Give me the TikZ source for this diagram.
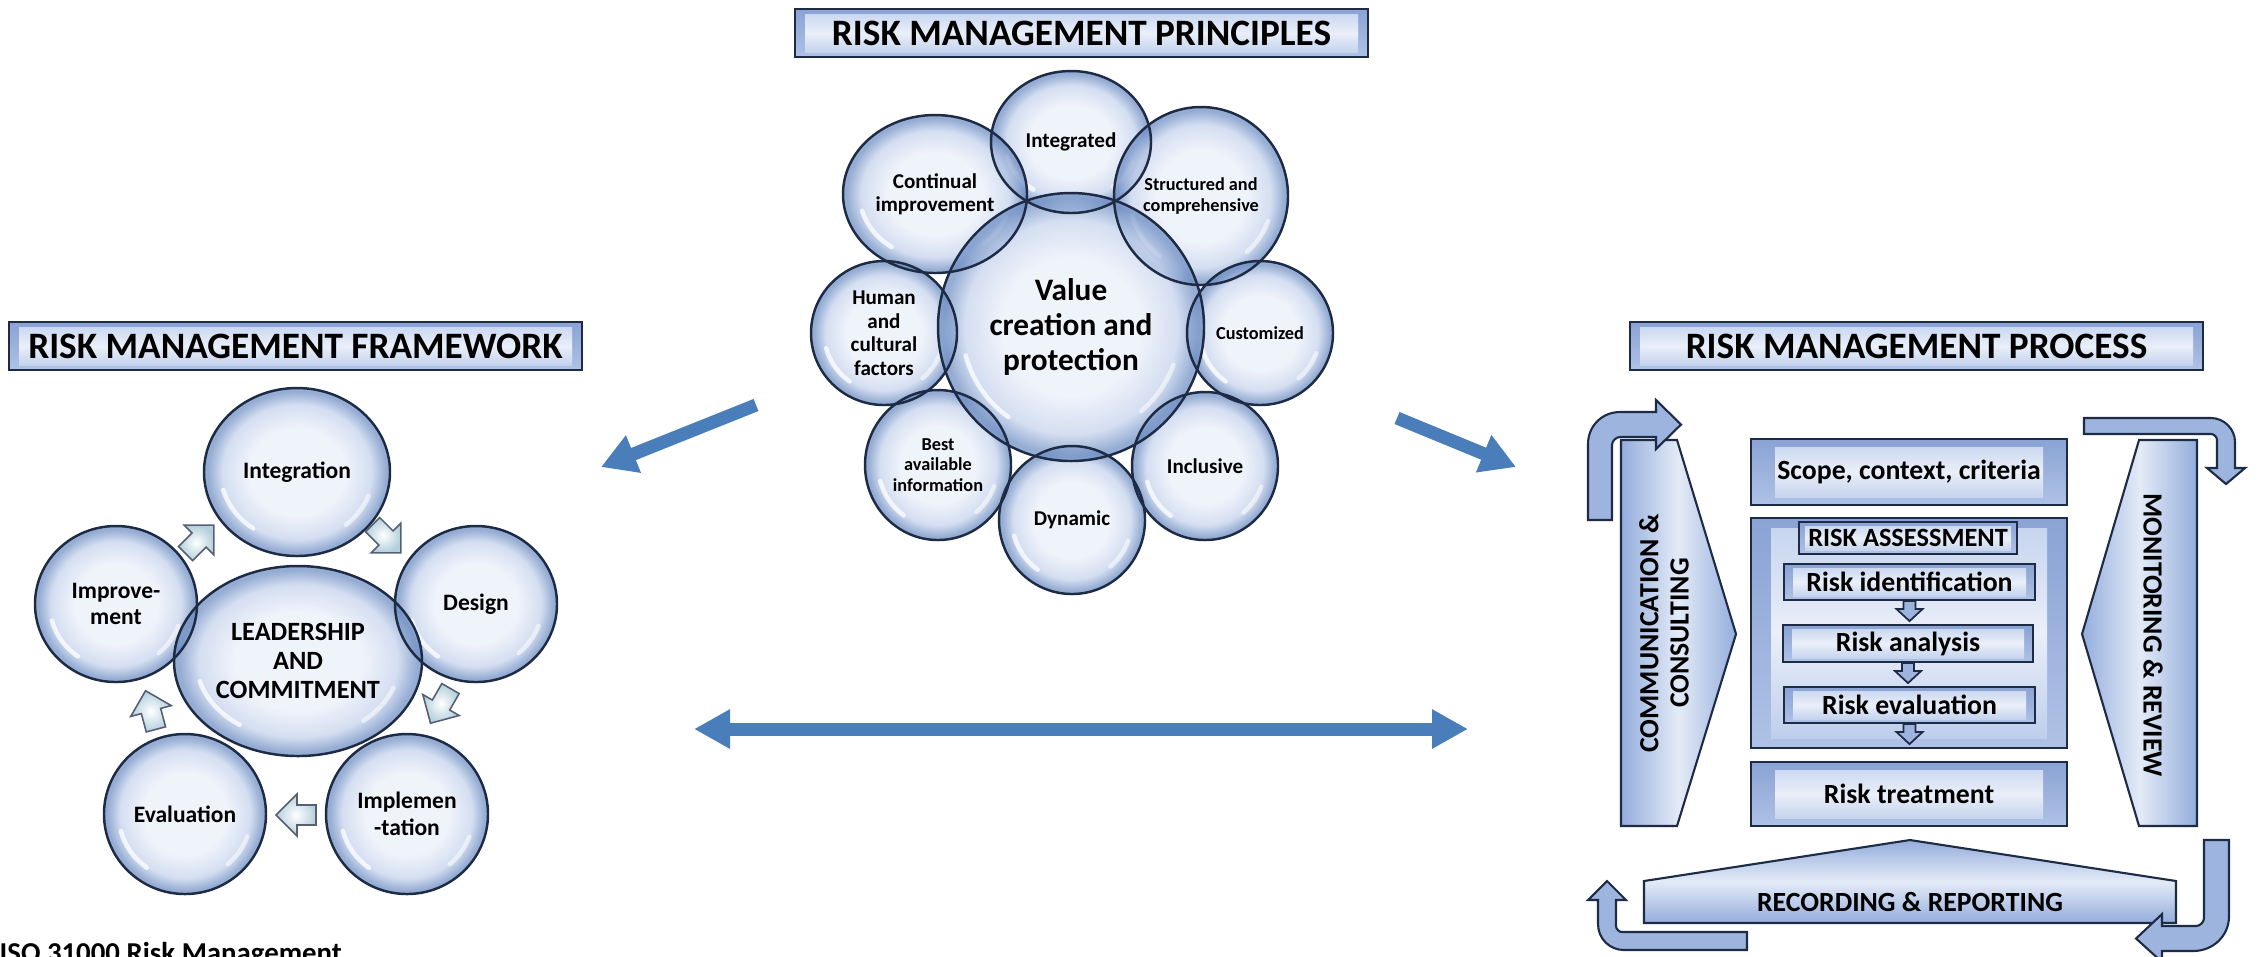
\documentclass[tikz,border=0pt]{standalone}
\usepackage{fontspec}
\setmainfont{Carlito}
\usetikzlibrary{arrows.meta,shapes.geometric}

\definecolor{rimcol}{HTML}{1E2B45}
\definecolor{bubIn}{HTML}{E9EEF8}
\definecolor{bubMid}{HTML}{C4D2EC}
\definecolor{bubOut}{HTML}{6C8CC2}
\definecolor{bevTop}{HTML}{8AA3D4}
\definecolor{bevBot}{HTML}{AFC2E6}
\definecolor{bevInTop}{HTML}{C3D2EE}
\definecolor{bevInMid}{HTML}{EAEFF9}
\definecolor{bevInBot}{HTML}{BACBEA}
\definecolor{shapeEdge}{HTML}{94ADDC}
\definecolor{shapeMid}{HTML}{E4EBF7}
\definecolor{arrFill}{HTML}{9DB4DF}
\definecolor{bigblue}{HTML}{4A7EBB}
\definecolor{cyc}{HTML}{B3CFDB}

\pgfdeclareradialshading{bubbleshade}{\pgfpoint{0bp}{0bp}}{color(0bp)=(bubIn); color(13bp)=(bubIn); color(20bp)=(bubMid); color(24bp)=(bubOut); color(25bp)=(bubOut); color(50bp)=(bubOut)}

\tikzset{
  bubblefill/.style={ellipse, inner sep=0pt, shade, shading=bubbleshade, fill opacity=0.72},
  bubblerim/.style={ellipse, inner sep=0pt, draw=rimcol, line width=0.7pt, align=center},
  gloss/.style={white, opacity=0.75, line width=0.45mm, line cap=round},
  bevel/.style 2 args={rectangle, inner sep=0pt, draw=rimcol, line width=0.6pt,
    top color=bevTop, bottom color=bevBot,
    path picture={\shade[top color=bevInTop, bottom color=bevInBot, middle color=bevInMid]
      ([xshift=#1,yshift=-#2]path picture bounding box.north west) rectangle
      ([xshift=-#1,yshift=#2]path picture bounding box.south east);}},
  banner/.style={bevel={1.0mm}{0.5mm}, minimum width=57.3mm, minimum height=4.8mm,
    font=\bfseries\fontsize{10.6}{12}\selectfont},
  pA/.style={font=\bfseries\fontsize{5.2}{5.9}\selectfont},
  pB/.style={font=\bfseries\fontsize{6}{6.7}\selectfont},
  pC/.style={font=\bfseries\fontsize{8.9}{10}\selectfont},
  fA/.style={font=\bfseries\fontsize{6.7}{7.6}\selectfont},
  fB/.style={font=\bfseries\fontsize{7.5}{8.2}\selectfont},
  procfont/.style={font=\bfseries\fontsize{7.9}{8.6}\selectfont},
  procshape/.style={draw=rimcol, line width=0.6pt},
  curvarrow/.style={draw=rimcol, line width=0.6pt, fill=arrFill},
  bigarrow/.style={bigblue, line width=1.3mm},
  cyclearrow/.pic={\draw[rimcol!75, line width=0.45pt, inner color=white, outer color=cyc]
    (-19,-10) -- (0,-10) -- (0,-21) -- (21,0) -- (0,21) -- (0,10) -- (-19,10) -- cycle;},
  downarr/.pic={\draw[rimcol, line width=0.5pt, fill=arrFill]
    (-6,0) -- (6,0) -- (6,8) -- (13,8) -- (0,20) -- (-13,8) -- (-6,8) -- cycle;}
}

\newcommand\frameworkbubbles{
  integ/297/472/18.6/16.8/fA/Integration,
  design/476/604/16.2/15.6/fA/Design,
  implem/407/814/16.2/16.0/fA/{Implemen\\-tation},
  evalu/185/814/16.2/16.0/fA/Evaluation,
  improv/116/604/16.2/15.6/fA/{Improve-\\ment},
  lead/298/661/24.8/19.0/fB/{LEADERSHIP\\AND\\COMMITMENT}}
\newcommand\principlebubbles{
  integd/1071/142/16.0/14.2/pB/Integrated,
  struct/1201/196/17.4/17.8/pA/{Structured and\\comprehensive},
  custom/1260/333/14.6/14.4/pA/Customized,
  inclus/1205/466/14.6/14.8/pB/Inclusive,
  dynam/1072/520/14.6/14.8/pB/Dynamic,
  bestinfo/938/465/14.6/15.0/pA/{Best\\available\\information},
  human/884/333/14.6/14.4/pB/{Human\\and\\cultural\\factors},
  contin/935/194/18.4/15.8/pB/{Continual\\improvement},
  value/1071/327/26.6/26.8/pC/{Value\\creation and\\protection}}

\begin{document}
\begin{tikzpicture}[x=0.1mm, y=-0.1mm]
	\clip (0,0) rectangle (2259,956);

	% banners
	\node[banner] (prinbanner) at (1081.5,33) {RISK MANAGEMENT PRINCIPLES};
	\node[banner] (frambanner) at (295.5,346) {RISK MANAGEMENT FRAMEWORK};
	\node[banner] (procbanner) at (1916.5,346) {RISK MANAGEMENT PROCESS};

	% bubbles: fill and gloss first, rims and labels on top
	\foreach \nm/\x/\y/\w/\h/\st/\txt in \frameworkbubbles {
		\node[bubblefill, minimum width=\w mm, minimum height=\h mm] at (\x,\y) {};
		\pgfmathsetmacro\rx{0.41*\w}
		\pgfmathsetmacro\ry{0.41*\h}
		\draw[gloss] ([shift={(195:\rx mm and \ry mm)}]\x,\y) arc[start angle=195, end angle=235, x radius=\rx mm, y radius=\ry mm];
		\draw[gloss, opacity=0.55] ([shift={(-50:\rx mm and \ry mm)}]\x,\y) arc[start angle=-50, end angle=-20, x radius=\rx mm, y radius=\ry mm];
	}
	\foreach \nm/\x/\y/\w/\h/\st/\txt in \principlebubbles {
		\node[bubblefill, minimum width=\w mm, minimum height=\h mm] at (\x,\y) {};
		\pgfmathsetmacro\rx{0.41*\w}
		\pgfmathsetmacro\ry{0.41*\h}
		\draw[gloss] ([shift={(195:\rx mm and \ry mm)}]\x,\y) arc[start angle=195, end angle=235, x radius=\rx mm, y radius=\ry mm];
		\draw[gloss, opacity=0.55] ([shift={(-50:\rx mm and \ry mm)}]\x,\y) arc[start angle=-50, end angle=-20, x radius=\rx mm, y radius=\ry mm];
	}
	\foreach \nm/\x/\y/\w/\h/\st/\txt in \frameworkbubbles
		\node[bubblerim, \st, minimum width=\w mm, minimum height=\h mm] (\nm) at (\x,\y) {\txt};
	\foreach \nm/\x/\y/\w/\h/\st/\txt in \principlebubbles
		\node[bubblerim, \st, minimum width=\w mm, minimum height=\h mm] (\nm) at (\x,\y) {\txt};

	% cycle arrows of the framework
	\pic[rotate=45] at (199,540) {cyclearrow};
	\pic[rotate=-45] at (386,538) {cyclearrow};
	\pic[rotate=-120] at (441,705) {cyclearrow};
	\pic[rotate=180] at (297,815) {cyclearrow};
	\pic[rotate=105] at (151,711) {cyclearrow};

	% big arrows
	\coordinate (fwtail) at (756,405);
	\coordinate (fwhead) at (601,467);
	\coordinate (prtail) at (1397,418);
	\coordinate (prhead) at (1516,467);
	\coordinate (linkL) at (694,729);
	\coordinate (linkR) at (1468,729);
	\draw[bigarrow, -{Triangle[length=3.5mm, width=3.8mm]}] (fwtail) -- (fwhead);
	\draw[bigarrow, -{Triangle[length=3.5mm, width=3.8mm]}] (prtail) -- (prhead);
	\draw[bigarrow, {Triangle[length=3.6mm, width=3.7mm]}-{Triangle[length=3.6mm, width=3.7mm]}] (linkL) -- (linkR);

	% process side shapes
	\draw[procshape, left color=shapeEdge, right color=shapeEdge, middle color=shapeMid]
		(1621,440) -- (1677,440) -- (1736,634) -- (1677,826) -- (1621,826) -- cycle;
	\draw[procshape, left color=shapeEdge, right color=shapeEdge, middle color=shapeMid]
		(2197,440) -- (2139,440) -- (2082,634) -- (2139,826) -- (2197,826) -- cycle;
	\draw[procshape, top color=shapeEdge, bottom color=shapeEdge, middle color=shapeMid]
		(1644,881) -- (1910,840) -- (2176,881) -- (2176,923) -- (1644,923) -- cycle;
	\node[procfont, rotate=90, align=center] (comm) at (1664,633) {COMMUNICATION \&\\CONSULTING};
	\node[procfont, rotate=-90] (monit) at (2153,635) {MONITORING \& REVIEW};
	\node[procfont] (record) at (1910,902) {RECORDING \& REPORTING};

	% process steps
	\node[bevel={2.4mm}{0.8mm}, minimum width=31.6mm, minimum height=6.6mm, procfont] (scope) at (1909,472) {Scope, context, criteria};
	\node[bevel={2.0mm}{1.0mm}, minimum width=31.6mm, minimum height=23mm] (raouter) at (1909,633) {};
	\node[bevel={0.6mm}{0.4mm}, minimum width=21.8mm, minimum height=3.2mm, fB] (ralabel) at (1908,538) {RISK ASSESSMENT};
	\node[bevel={0.9mm}{0.4mm}, minimum width=25.1mm, minimum height=3.6mm, procfont] (ident) at (1909.5,582) {Risk identification};
	\node[bevel={0.9mm}{0.4mm}, minimum width=25.0mm, minimum height=3.7mm, procfont] (analys) at (1908,643.5) {Risk analysis};
	\node[bevel={0.9mm}{0.4mm}, minimum width=25.1mm, minimum height=3.6mm, procfont] (evalstep) at (1909.5,705) {Risk evaluation};
	\node[bevel={2.4mm}{0.8mm}, minimum width=31.6mm, minimum height=6.4mm, procfont] (treat) at (1909,794) {Risk treatment};
	\pic at (ident.south) {downarr};
	\pic at (analys.south) {downarr};
	\pic at (evalstep.south) {downarr};

	% curved arrows round the process
	\draw[curvarrow] (1588,520) -- (1588,444) .. controls (1588,426) and (1602,412) .. (1620,412)
		-- (1656,412) -- (1656,400) -- (1681,424.5) -- (1656,449) -- (1656,437) -- (1620,437)
		.. controls (1616,437) and (1612,441) .. (1612,445) -- (1612,520) -- cycle;
	\draw[curvarrow] (2084,418) -- (2211,418) .. controls (2224,418) and (2235,429) .. (2235,442)
		-- (2235,468) -- (2245,468) -- (2226,484) -- (2207,468) -- (2217,468) -- (2217,440)
		.. controls (2217,437) and (2214,434) .. (2211,434) -- (2084,434) -- cycle;
	\draw[curvarrow] (2204,840) -- (2229,840) -- (2229,916) .. controls (2229,936) and (2213,951) .. (2193,951)
		-- (2162,951) -- (2162,962) -- (2136,938.5) -- (2162,914) -- (2162,926) -- (2196,926)
		.. controls (2200,926) and (2204,922) .. (2204,918) -- cycle;
	\draw[curvarrow] (1747,950) -- (1624,950) .. controls (1610,950) and (1598,939) .. (1598,924)
		-- (1598,900) -- (1588,900) -- (1607,881) -- (1626,900) -- (1616,900) -- (1616,926)
		.. controls (1616,929) and (1619,932) .. (1622,932) -- (1747,932) -- cycle;

	% caption, cut by the lower edge
	\node[anchor=base west, inner sep=0pt, font=\bfseries\fontsize{8.2}{9}\selectfont] (isocap) at (-1,962) {ISO 31000 Risk Management};
\end{tikzpicture}
\end{document}
